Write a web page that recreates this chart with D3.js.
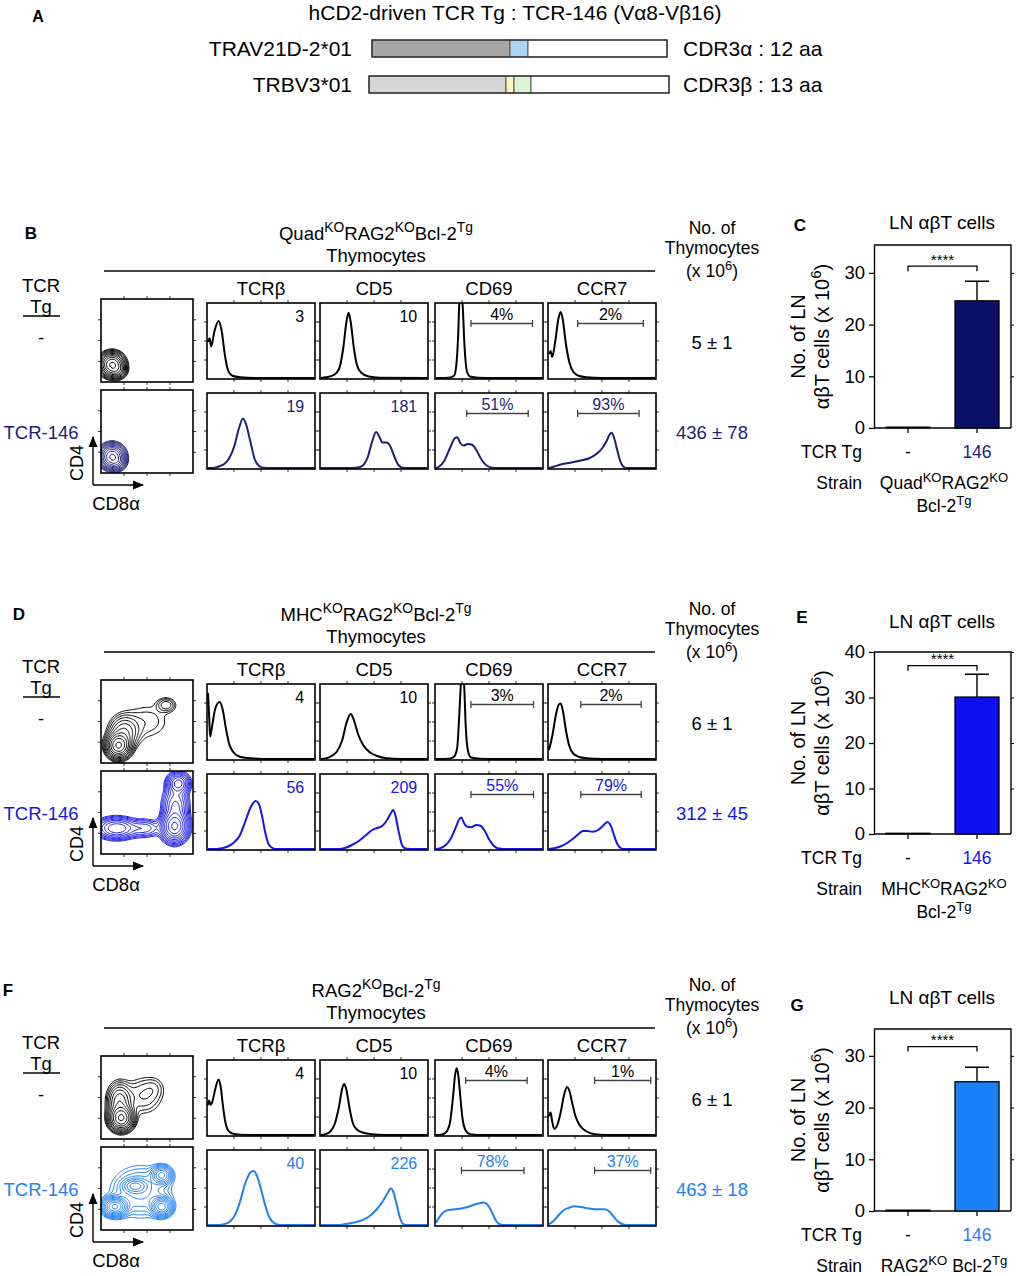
<!DOCTYPE html>
<meta charset="utf-8">
<style>
  body { margin: 0; background: #fff; }
  svg { display: block; }
  text { font-family: "Liberation Sans", Arial, sans-serif; }
</style>
<body>
<svg width="1017" height="1276"></svg>
<script src="https://d3js.org/d3.v7.min.js"></script>
<script>
// ---------- data ----------
const markers = ["TCRβ", "CD5", "CD69", "CCR7"];
const strains = ["Quad^{KO}RAG2^{KO}Bcl-2^{Tg}", "MHC^{KO}RAG2^{KO}Bcl-2^{Tg}", "RAG2^{KO}Bcl-2^{Tg}"];
const thymoCounts = [["5 ± 1", "436 ± 78"], ["6 ± 1", "312 ± 45"], ["6 ± 1", "463 ± 18"]];

// histogram traces: [channel 0-100, % of box height]
const quadNegHist = [
  [[0,48],[1.5,53],[3,42],[6,62],[10,76],[13,62],[16,30],[19,10],[23,3],[30,1],[45,0],[100,0]],
  [[0,0],[5,1],[12,4],[17,12],[21,40],[24,75],[26,87],[28,75],[31,40],[34,17],[38,7],[45,2],[55,0.5],[100,0]],
  [[0,0],[12,0.5],[17,3],[19,15],[21,60],[22,100],[23.5,115],[25,100],[27,40],[29,10],[32,2],[40,0.5],[55,0],[100,0]],
  [[0,32],[1.5,36],[3,28],[6,50],[9,80],[11,88],[13,78],[16,45],[19,22],[23,8],[28,3],[35,1],[50,0],[100,0]]
];
const quadTgHist = [
  [[0,0],[5,0],[10,2],[15,5],[20,13],[25,30],[29,52],[33,66],[36,58],[40,35],[44,12],[48,3],[52,0.5],[60,0],[100,0]],
  [[0,0],[30,0],[36,1],[40,4],[44,14],[48,34],[52,48],[55,42],[58,34],[62,34],[65,30],[69,16],[73,4],[77,0.5],[82,0],[100,0]],
  [[0,0],[3,2],[8,10],[13,26],[18,40],[20,41],[23,33],[26,30],[30,32],[34,31],[38,24],[43,11],[48,3],[53,0.5],[60,0],[100,0]],
  [[0,0],[5,2],[12,5],[20,7],[30,10],[38,13],[45,19],[50,26],[54,35],[57,44],[59,47],[61,42],[64,26],[67,10],[70,2],[73,0],[100,0]]
];
const mhcNegHist = [
  [[0,88],[1,60],[2,30],[4,45],[7,68],[11,76],[14,65],[17,40],[20,20],[24,9],[30,3],[40,1],[60,0],[100,0]],
  [[0,0],[5,1],[10,4],[15,10],[20,25],[24,48],[28,60],[31,52],[35,33],[40,18],[46,9],[53,4],[62,1],[75,0],[100,0]],
  [[0,0],[12,0.5],[17,3],[20,15],[22,60],[23.5,100],[25,115],[26.5,100],[28,45],[30,12],[33,2],[42,0.5],[55,0],[100,0]],
  [[0,12],[3,30],[6,55],[9,72],[11,74],[13,65],[16,38],[19,18],[23,7],[28,3],[35,1],[50,0],[100,0]]
];
const mhcTgHist = [
  [[0,0],[8,0],[13,1],[18,3],[24,8],[30,18],[35,36],[40,55],[45,64],[48,60],[51,44],[54,22],[57,7],[60,2],[64,0],[100,0]],
  [[0,0],[18,0],[24,2],[30,6],[36,11],[42,18],[48,25],[53,28],[58,31],[62,38],[66,48],[68,52],[70,46],[73,25],[76,7],[79,1],[84,0],[100,0]],
  [[0,0],[4,1],[9,5],[14,14],[19,30],[22,40],[24,42],[26,36],[29,30],[33,29],[38,32],[42,31],[46,24],[50,13],[54,5],[58,1],[64,0],[100,0]],
  [[0,0],[5,1],[10,3],[16,7],[22,13],[28,20],[32,24],[36,24],[41,23],[46,25],[51,31],[55,36],[58,32],[61,20],[64,8],[67,2],[70,0],[100,0]]
];
const ragNegHist = [
  [[0,40],[1,46],[2.5,40],[4,44],[7,62],[10,74],[12,64],[14,40],[16,20],[19,6],[23,2],[30,0.5],[45,0],[100,0]],
  [[0,0],[4,1],[9,5],[13,15],[17,38],[20,62],[22,68],[24,60],[27,35],[30,16],[34,7],[40,3],[48,1],[60,0],[100,0]],
  [[0,0],[5,0.5],[9,3],[13,15],[16,50],[18,80],[19.5,89],[21,80],[23,50],[25,22],[28,6],[32,1],[40,0],[100,0]],
  [[0,25],[1.5,30],[3,18],[5,8],[8,14],[11,30],[14,52],[17,64],[19,60],[22,42],[25,25],[29,13],[34,6],[40,2],[48,0.5],[60,0],[100,0]]
];
const ragTgHist = [
  [[0,0],[10,0],[15,1],[20,4],[25,12],[30,30],[35,55],[40,70],[43,72],[46,66],[50,48],[54,26],[58,10],[62,3],[66,0.5],[72,0],[100,0]],
  [[0,0],[16,0],[22,1],[30,3],[38,6],[45,11],[52,20],[58,31],[63,43],[66,49],[68,45],[71,30],[74,12],[77,2],[80,0],[100,0]],
  [[0,3],[3,10],[7,17],[12,20],[18,21],[24,22],[30,24],[36,27],[41,29],[45,30],[48,28],[51,22],[54,13],[57,5],[60,1],[64,0],[100,0]],
  [[0,1],[4,5],[9,13],[14,20],[19,23],[24,25],[30,24],[38,22],[45,21],[52,21],[56,19],[60,13],[64,6],[68,2],[72,0],[100,0]]
];

const quadNegStats = ["3", "10", "4%", "2%"];
const quadTgStats = ["19", "181", "51%", "93%"];
const mhcNegStats = ["4", "10", "3%", "2%"];
const mhcTgStats = ["56", "209", "55%", "79%"];
const ragNegStats = ["4", "10", "4%", "1%"];
const ragTgStats = ["40", "226", "78%", "37%"];

// gates for CD69 and CCR7 (channel 0-100)
const quadNegGates = [[33, 91], [27, 89]];
const quadTgGates = [[29, 87], [27, 85]];
const mhcNegGates = [[33, 92], [30, 87]];
const mhcTgGates = [[33, 92], [30, 87]];
const ragNegGates = [[28, 86], [43, 96]];
const ragTgGates = [[24, 83], [43, 96]];

// CD8a x CD4 populations: [cx, cy, sx, sy, weight]
const quadNegPops = [[12, 21, 6.5, 7, 1], [18, 14, 5, 5, 0.25]];
const quadTgPops = [[12, 20, 6.5, 7, 1], [17, 13, 5, 5, 0.25]];
const mhcNegPops = [[19, 21, 6.5, 7.5, 1], [25, 37, 9, 11, 0.22], [71, 70, 6, 5, 0.1], [50, 50, 17, 15, 0.05]];
const mhcTgPops = [[17, 31, 11, 6.5, 0.45], [47, 31, 10, 6, 0.14], [80, 33, 7, 9, 1.0], [84, 85, 6, 6.5, 0.55], [81, 58, 7, 12, 0.35]];
const ragNegPops = [[22, 25, 6.5, 7.5, 1], [20, 45, 7, 12, 0.3], [46, 52, 13, 14, 0.08], [58, 62, 7, 8, 0.03]];
const ragTgPops = [[15, 28, 6.5, 5.5, 1], [66, 28, 5.5, 5.5, 0.8], [66, 66, 5.5, 5.5, 0.5], [37, 53, 7, 4.5, 0.3], [43, 46, 19, 18, 0.12]];

// LN ab T cells (x 10^6)
const lnGroups = ["-", "146"];
const quadLN = [0.2, 24.6], quadLNErr = [0, 3.8];
const mhcLN = [0.2, 30.1], mhcLNErr = [0, 5.0];
const ragLN = [0.2, 25.0], ragLNErr = [0, 2.8];
const quadTicks = [0, 10, 20, 30], mhcTicks = [0, 10, 20, 30, 40], ragTicks = [0, 10, 20, 30];
const lnAxisMax = [35.4, 40, 35.2];
const sigLevel = [31.3, 37, 31.8];
const strainLines = [["Quad^{KO}RAG2^{KO}", "Bcl-2^{Tg}"], ["MHC^{KO}RAG2^{KO}", "Bcl-2^{Tg}"], ["RAG2^{KO} Bcl-2^{Tg}"]];

// panel A
const chainNames = ["TRAV21D-2*01", "TRBV3*01"];
const chainCDR = ["CDR3α : 12 aa", "CDR3β : 13 aa"];
const alphaSegs = [138, 18, 139];
const betaSegs = [137, 8, 17, 138];

// ---------- drawing ----------
const tgColors = ["#1b1f78", "#1515e8", "#1f80f0"];
const barColors = ["#0b0f68", "#0f0ff0", "#1a80f5"];
const svg = d3.select("svg");
svg.append("rect").attr("width", 1017).attr("height", 1276).attr("fill", "#fff");

function rich(sel, str, size) {
  const parts = str.split(/(\^\{[^}]*\})/).filter(s => s.length);
  let shifted = false;
  parts.forEach(p => {
    if (p.startsWith("^{")) {
      sel.append("tspan").attr("dy", -size * 0.42).attr("font-size", size * 0.75).text(p.slice(2, -1));
      shifted = true;
    } else {
      sel.append("tspan").attr("dy", shifted ? size * 0.42 : 0).text(p);
      shifted = false;
    }
  });
  return sel;
}
// y is the visual centre of the line
function label(g, x, y, str, size, anchor = "middle", color = "#000") {
  const t = g.append("text")
    .attr("x", x).attr("y", y + size * 0.36)
    .attr("font-size", size)
    .attr("text-anchor", anchor)
    .attr("fill", color);
  return rich(t, str, size);
}

let clipN = 0;
function clipBox(g, x, y, w, h) {
  const id = "clip" + (clipN++);
  g.append("clipPath").attr("id", id).append("rect").attr("x", x).attr("y", y).attr("width", w).attr("height", h);
  return "url(#" + id + ")";
}
function boxTicks(g, x0, y0, w, h) {
  [0.25, 0.5, 0.75].forEach(f => {
    const x = x0 + f * w, y = y0 + f * h;
    g.append("path").attr("d", `M${x},${y0}v-3M${x},${y0 + h}v3M${x0},${y}h-3M${x0 + w},${y}h3`)
      .attr("stroke", "#333").attr("stroke-width", 1);
  });
}

// ---- panel A ----
label(svg, 38, 16, "A", 16).attr("font-weight", "bold");
label(svg, 515, 12, "hCD2-driven TCR Tg : TCR-146 (Vα8-Vβ16)", 21);
const chainRows = [
  { segs: alphaSegs, fills: ["#a6a6a6", "#a9d4f6", "#fff"], x0: 372, w: 295, y: 40, h: 17, ly: 48 },
  { segs: betaSegs, fills: ["#d6d6d6", "#fbf3c4", "#d9f5d6", "#fff"], x0: 369, w: 300, y: 76, h: 17, ly: 84 }
];
chainRows.forEach((r, i) => {
  const total = d3.sum(r.segs);
  const x = d3.scaleLinear().domain([0, total]).range([r.x0, r.x0 + r.w]);
  const starts = d3.cumsum([0, ...r.segs]);
  svg.append("g").selectAll("rect").data(r.segs).join("rect")
    .attr("x", (d, k) => x(starts[k])).attr("width", d => x(d) - x(0))
    .attr("y", r.y).attr("height", r.h)
    .attr("fill", (d, k) => r.fills[k]).attr("stroke", "#555").attr("stroke-width", 1);
  svg.append("rect").attr("x", r.x0).attr("y", r.y).attr("width", r.w).attr("height", r.h)
    .attr("fill", "none").attr("stroke", "#222").attr("stroke-width", 1.2);
  label(svg, 352, r.ly, chainNames[i], 21, "end");
  label(svg, 683, r.ly, chainCDR[i], 21, "start");
});

// ---- flow panels ----
const histX = [207, 320, 435, 548];
const HW = 108, HH = 76;
const CW = 92, CH = 83;

function drawHist(g, x0, y0, pts, color, stat, gate) {
  const xs = d3.scaleLinear().domain([0, 100]).range([x0 + 1, x0 + HW - 1]);
  const ys = d3.scaleLinear().domain([0, 100]).range([y0 + HH - 1, y0]);
  boxTicks(g, x0, y0, HW, HH);
  g.append("path").datum(pts)
    .attr("clip-path", clipBox(g, x0, y0, HW, HH))
    .attr("d", d3.line().x(d => xs(d[0])).y(d => ys(d[1])).curve(d3.curveMonotoneX))
    .attr("fill", "none").attr("stroke", color).attr("stroke-width", 2);
  g.append("rect").attr("x", x0).attr("y", y0).attr("width", HW).attr("height", HH)
    .attr("fill", "none").attr("stroke", "#000").attr("stroke-width", 1.6);
  if (gate) {
    const gy = y0 + HH * 0.27;
    const a = xs(gate[0]), b = xs(gate[1]);
    g.append("path").attr("d", `M${a},${gy - 3.5}v7M${a},${gy}H${b}M${b},${gy - 3.5}v7`)
      .attr("stroke", "#444").attr("stroke-width", 1.3).attr("fill", "none");
    label(g, (a + b) / 2, gy - 9, stat, 16, "middle", color);
  } else {
    label(g, x0 + HW * 0.9, y0 + 13, stat, 16, "end", color);
  }
}

function drawContour(g, x0, y0, pops, color) {
  const n = 80;
  const values = new Float64Array(n * n);
  for (let j = 0; j < n; j++) {
    for (let i = 0; i < n; i++) {
      const x = (i + 0.5) / n * 100, y = (j + 0.5) / n * 100;
      let v = 0;
      pops.forEach(([cx, cy, sx, sy, w]) => {
        v += w * Math.exp(-((x - cx) ** 2) / (2 * sx * sx) - ((y - cy) ** 2) / (2 * sy * sy));
      });
      values[i + j * n] = v;
    }
  }
  const max = d3.max(values);
  const thr = d3.range(11).map(k => max * 0.025 * Math.pow(0.9 / 0.025, k / 10));
  const proj = d3.geoTransform({
    point(x, y) { this.stream.point(x0 + x / n * CW, y0 + CH - y / n * CH); }
  });
  boxTicks(g, x0, y0, CW, CH);
  g.append("g").attr("clip-path", clipBox(g, x0, y0, CW, CH))
    .selectAll("path").data(d3.contours().size([n, n]).thresholds(thr)(values)).join("path")
    .attr("d", d3.geoPath(proj))
    .attr("fill", "none").attr("stroke", color).attr("stroke-width", 1);
  g.append("rect").attr("x", x0).attr("y", y0).attr("width", CW).attr("height", CH)
    .attr("fill", "none").attr("stroke", "#000").attr("stroke-width", 1.6);
}

svg.append("defs").append("marker").attr("id", "arrow")
  .attr("viewBox", "0 0 10 10").attr("refX", 9).attr("refY", 5)
  .attr("markerWidth", 8).attr("markerHeight", 8).attr("orient", "auto")
  .append("path").attr("d", "M0,1L10,5L0,9Z").attr("fill", "#000");

const flowPanels = [
  { dy: 0, letter: "B", lx: 31, strain: strains[0], counts: thymoCounts[0], color: tgColors[0],
    negPops: quadNegPops, tgPops: quadTgPops, neg: quadNegHist, tg: quadTgHist,
    negStats: quadNegStats, tgStats: quadTgStats, negGates: quadNegGates, tgGates: quadTgGates },
  { dy: 381, letter: "D", lx: 19, strain: strains[1], counts: thymoCounts[1], color: tgColors[1],
    negPops: mhcNegPops, tgPops: mhcTgPops, neg: mhcNegHist, tg: mhcTgHist,
    negStats: mhcNegStats, tgStats: mhcTgStats, negGates: mhcNegGates, tgGates: mhcTgGates },
  { dy: 757, letter: "F", lx: 8, strain: strains[2], counts: thymoCounts[2], color: tgColors[2],
    negPops: ragNegPops, tgPops: ragTgPops, neg: ragNegHist, tg: ragTgHist,
    negStats: ragNegStats, tgStats: ragTgStats, negGates: ragNegGates, tgGates: ragTgGates }
];

flowPanels.forEach(p => {
  const g = svg.append("g").attr("transform", `translate(0,${p.dy})`);
  label(g, p.lx, 233, p.letter, 17, "middle").attr("font-weight", "bold");
  label(g, 376, 233, p.strain, 18.5);
  label(g, 376, 255, "Thymocytes", 18.5);
  g.append("line").attr("x1", 104).attr("x2", 655).attr("y1", 271).attr("y2", 271)
    .attr("stroke", "#000").attr("stroke-width", 1.5);
  label(g, 41, 285, "TCR", 18.5);
  label(g, 41, 306, "Tg", 18.5);
  g.append("line").attr("x1", 23).attr("x2", 60).attr("y1", 316).attr("y2", 316)
    .attr("stroke", "#000").attr("stroke-width", 1.3);
  label(g, 41, 337, "-", 18.5);
  label(g, 41, 432, "TCR-146", 18.5, "middle", p.color);
  markers.forEach((m, k) => label(g, histX[k] + HW / 2, 288, m, 18.5));
  label(g, 712, 228, "No. of", 17.5);
  label(g, 712, 248, "Thymocytes", 17.5);
  label(g, 712, 271, "(x 10^{6})", 17.5);
  label(g, 712, 342, p.counts[0], 18.5);
  label(g, 712, 432, p.counts[1], 18.5, "middle", p.color);

  drawContour(g, 101, 299, p.negPops, "#000");
  drawContour(g, 101, 390, p.tgPops, p.color);
  markers.forEach((m, k) => {
    drawHist(g, histX[k], 303, p.neg[k], "#000", p.negStats[k], k > 1 ? p.negGates[k - 2] : null);
    drawHist(g, histX[k], 393, p.tg[k], p.color, p.tgStats[k], k > 1 ? p.tgGates[k - 2] : null);
  });

  g.append("path").attr("d", "M93,485V437").attr("stroke", "#000").attr("stroke-width", 1.4).attr("marker-end", "url(#arrow)");
  g.append("path").attr("d", "M93,485H143").attr("stroke", "#000").attr("stroke-width", 1.4).attr("marker-end", "url(#arrow)");
  g.append("text").attr("transform", "translate(83,463) rotate(-90)")
    .attr("text-anchor", "middle").attr("font-size", 18).text("CD4");
  label(g, 116, 503, "CD8α", 18.5);
});

// ---- LN bar panels ----
const lnPanels = [
  { letter: "C", lx: 800, ly: 225, titleY: 222, top: 245, zero: 428, vals: quadLN, errs: quadLNErr, ticks: quadTicks },
  { letter: "E", lx: 802, ly: 617, titleY: 621, top: 652, zero: 834, vals: mhcLN, errs: mhcLNErr, ticks: mhcTicks },
  { letter: "G", lx: 797, ly: 1005, titleY: 997, top: 1029, zero: 1211, vals: ragLN, errs: ragLNErr, ticks: ragTicks }
];
const AX0 = 874, AX1 = 1011, BW = 44;

lnPanels.forEach((p, i) => {
  const g = svg.append("g");
  const y = d3.scaleLinear().domain([0, lnAxisMax[i]]).range([p.zero, p.top]);
  const x = d3.scalePoint().domain(lnGroups).range([908, 977]);

  label(g, p.lx, p.ly, p.letter, 17).attr("font-weight", "bold");
  label(g, 942, p.titleY, "LN αβT cells", 19);

  g.append("path").attr("d", `M${AX0},${p.top}H${AX1}V${p.zero}`)
    .attr("fill", "none").attr("stroke", "#000").attr("stroke-width", 1.4);

  const ax = g.append("g").attr("transform", `translate(${AX0},0)`)
    .call(d3.axisLeft(y).tickValues(p.ticks).tickSize(5).tickSizeOuter(0).tickPadding(4));
  ax.select(".domain").attr("stroke-width", 1.4);
  ax.selectAll(".tick line").attr("stroke-width", 1.3);
  ax.selectAll("text").attr("font-size", 18.5).attr("font-family", '"Liberation Sans", Arial, sans-serif');

  const axr = g.append("g").attr("transform", `translate(${AX1},0)`)
    .call(d3.axisRight(y).tickValues(p.ticks.filter(t => t > 0)).tickSize(3).tickSizeOuter(0).tickFormat(""));
  axr.select(".domain").remove();

  g.append("line").attr("x1", AX0).attr("x2", AX1).attr("y1", p.zero).attr("y2", p.zero)
    .attr("stroke", "#000").attr("stroke-width", 1.4);
  g.append("g").selectAll("line").data(lnGroups).join("line")
    .attr("x1", d => x(d)).attr("x2", d => x(d)).attr("y1", p.zero).attr("y2", p.zero + 5)
    .attr("stroke", "#000").attr("stroke-width", 1.3);

  g.append("g").selectAll("rect").data(p.vals).join("rect")
    .attr("x", (d, k) => x(lnGroups[k]) - BW / 2).attr("width", BW)
    .attr("y", d => y(d)).attr("height", d => y(0) - y(d))
    .attr("fill", (d, k) => k ? barColors[i] : "#000")
    .attr("stroke", "#000").attr("stroke-width", (d, k) => k ? 1.3 : 0.9);

  p.vals.forEach((v, k) => {
    if (!p.errs[k]) return;
    const cx = x(lnGroups[k]);
    g.append("path").attr("d", `M${cx},${y(v)}V${y(v + p.errs[k])}M${cx - 12},${y(v + p.errs[k])}H${cx + 12}`)
      .attr("stroke", "#000").attr("stroke-width", 1.4).attr("fill", "none");
  });

  const sy = y(sigLevel[i]);
  g.append("path").attr("d", `M${x("-")},${sy + 5}V${sy}H${x("146")}V${sy + 5}`)
    .attr("stroke", "#000").attr("stroke-width", 1.3).attr("fill", "none");
  label(g, (x("-") + x("146")) / 2, sy - 7, "****", 15);

  const mid = (p.top + p.zero) / 2;
  const t1 = g.append("text").attr("transform", `translate(${805},${mid}) rotate(-90)`)
    .attr("text-anchor", "middle").attr("font-size", 20);
  rich(t1, "No. of LN", 20);
  const t2 = g.append("text").attr("transform", `translate(${829},${mid}) rotate(-90)`)
    .attr("text-anchor", "middle").attr("font-size", 20);
  rich(t2, "αβT cells (x 10^{6})", 20);

  label(g, 862, p.zero + 24, "TCR Tg", 17.5, "end");
  label(g, x("-"), p.zero + 24, "-", 17.5);
  label(g, x("146"), p.zero + 24, "146", 17.5, "middle", tgColors[i]);
  label(g, 862, p.zero + 55, "Strain", 17.5, "end");
  strainLines[i].forEach((s, k) => label(g, 944, p.zero + 55 + k * 23, s, 17.5));
});
</script>
</body>
